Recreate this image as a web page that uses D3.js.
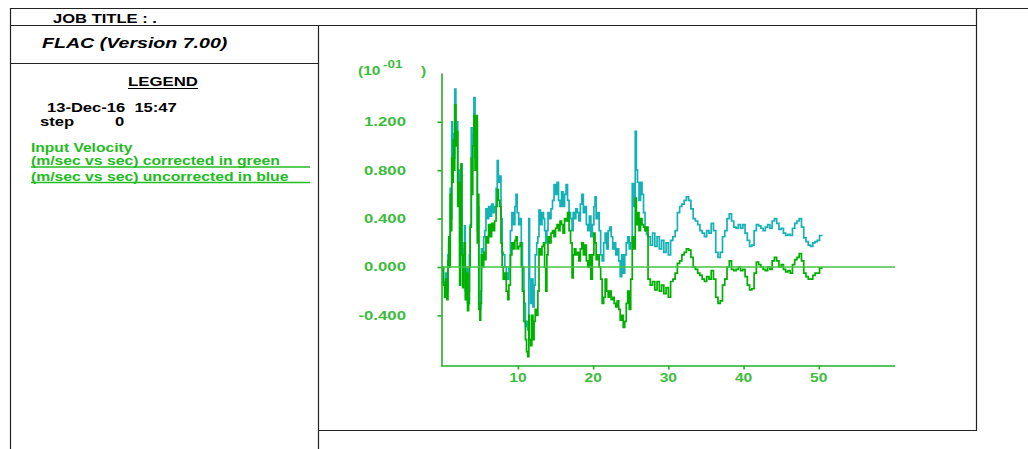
<!DOCTYPE html>
<html><head><meta charset="utf-8">
<script src="https://cdn.jsdelivr.net/npm/d3@7"></script>
<style>
html,body{margin:0;padding:0;background:#fff;}
svg text{font-family:"Liberation Sans",Arial,sans-serif;white-space:pre;}
</style></head>
<body>
<svg id="c" width="1028" height="449"></svg>
<script>
// ---- data (velocity in units of 10^-1 m/s, time in s) ----
const times = [0,0.1,0.25,0.4,0.55,0.7,0.8,0.9,1.0,1.1,1.2,1.3,1.4,1.5,1.6,1.75,1.9,2.0,2.1,2.25,2.35,2.45,2.55,2.65,2.75,2.9,3.0,3.15,3.3,3.45,3.55,3.65,3.8,3.9,4.0,4.15,4.3,4.45,4.6,4.7,4.8,4.95,5.05,5.15,5.3,5.45,5.6,5.75,5.9,6.1,6.3,6.5,6.7,6.9,7.1,7.25,7.4,7.6,7.75,7.9,8.05,8.25,8.45,8.65,8.8,9.0,9.2,9.4,9.6,9.75,9.9,10.1,10.3,10.45,10.6,10.8,11.0,11.15,11.3,11.45,11.55,11.7,11.85,12.0,12.15,12.3,12.5,12.65,12.8,13.0,13.2,13.4,13.55,13.7,13.85,14.0,14.2,14.4,14.6,14.8,15.0,15.2,15.4,15.6,15.8,16.0,16.2,16.4,16.6,16.8,17.0,17.2,17.35,17.5,17.7,17.9,18.1,18.3,18.5,18.7,18.9,19.1,19.3,19.5,19.7,19.9,20.1,20.25,20.4,20.6,20.8,21.0,21.2,21.4,21.6,21.8,22.0,22.2,22.4,22.6,22.8,23.0,23.2,23.4,23.6,23.8,24.0,24.2,24.4,24.6,24.8,25.0,25.2,25.4,25.6,25.75,25.9,26.1,26.3,26.5,26.7,26.9,27.1,27.3,27.6,27.9,28.2,28.5,28.8,29.1,29.4,29.7,30.0,30.3,30.6,30.9,31.2,31.5,31.8,32.1,32.4,32.7,33.0,33.3,33.6,33.9,34.2,34.5,34.8,35.1,35.4,35.7,36.0,36.3,36.6,36.9,37.2,37.5,37.8,38.1,38.4,38.7,39.0,39.3,39.6,39.9,40.2,40.5,40.8,41.1,41.4,41.7,42.0,42.3,42.6,42.9,43.2,43.5,43.8,44.1,44.4,44.7,45.0,45.3,45.6,45.9,46.2,46.5,46.8,47.1,47.4,47.7,48.0,48.3,48.6,48.9,49.2,49.5,49.8,50.1,50.5];
const correctedGreen = [0,-0.15,-0.25,-0.1,-0.27,0.05,0.25,0.0,0.6,0.3,0.9,0.7,1.05,0.8,1.34,1.0,1.12,0.5,0.7,-0.15,0.2,0.85,0.1,-0.17,0.1,0.2,-0.27,-0.05,-0.36,-0.3,0.0,0.33,0.9,0.6,1.0,1.25,0.8,1.25,0.2,0.6,-0.35,-0.44,-0.3,0.1,0.0,0.12,0.06,0.25,0.2,0.35,0.25,0.36,0.3,0.38,0.5,0.64,0.55,0.5,0.2,0.0,-0.1,-0.05,-0.2,-0.27,-0.15,0.1,0.2,0.15,0.22,0.25,0.15,0.17,0.2,0.0,-0.2,-0.45,-0.6,-0.7,-0.74,-0.4,-0.6,-0.65,-0.4,-0.6,-0.45,-0.35,-0.4,-0.2,0.15,0.1,0.17,0.2,0.0,-0.2,0.1,0.25,0.2,0.28,0.3,0.25,0.32,0.35,0.3,0.38,0.35,0.28,0.4,0.38,0.45,0.3,0.2,-0.09,0.1,0.15,0.1,0.12,0.05,0.15,0.2,0.1,0.18,0.05,0.0,0.1,-0.1,0.1,0.28,0.2,0.06,0.1,0.0,-0.1,-0.3,-0.25,-0.1,-0.2,-0.25,-0.2,-0.27,-0.25,-0.3,-0.33,-0.28,-0.35,-0.44,-0.4,-0.5,-0.45,-0.3,-0.2,-0.35,-0.1,0.25,0.15,0.57,0.35,0.45,0.3,0.4,0.35,0.33,0.3,0.33,-0.1,-0.15,-0.12,-0.19,-0.12,-0.2,-0.15,-0.22,-0.17,-0.25,-0.12,-0.1,-0.05,0.03,0.05,0.1,0.12,0.15,0.14,0.08,0.0,-0.02,-0.05,-0.07,-0.1,-0.12,-0.08,-0.1,-0.03,-0.1,-0.25,-0.3,-0.28,-0.15,-0.1,0.0,0.05,-0.02,-0.03,-0.02,0.0,-0.03,-0.02,-0.08,-0.15,-0.19,-0.18,-0.05,0.04,0.02,0.0,-0.02,-0.03,0.0,-0.02,0.05,0.08,0.05,0.0,0.02,-0.02,-0.04,-0.03,-0.05,0.02,0.06,0.08,0.11,0.05,-0.05,-0.08,-0.1,-0.1,-0.07,-0.05,-0.05,-0.01,-0.01];
const uncorrectedBlue = [0,-0.12,-0.15,-0.05,-0.2,0.1,0.2,0.05,0.65,0.4,1.2,0.8,1.1,0.9,1.47,1.1,1.2,0.7,0.8,0.0,0.35,0.85,0.2,-0.15,0.15,0.34,-0.2,0.0,-0.3,-0.2,0.1,0.35,1.15,0.8,1.1,1.4,0.9,1.2,0.3,0.5,-0.3,-0.35,-0.2,0.15,0.12,0.25,0.3,0.48,0.4,0.5,0.42,0.52,0.45,0.5,0.65,0.88,0.7,0.75,0.4,0.12,0.1,0.0,-0.05,-0.1,0.0,0.3,0.45,0.35,0.5,0.6,0.45,0.35,0.4,0.2,0.0,-0.3,-0.49,-0.45,-0.52,0.4,-0.1,-0.3,-0.1,-0.33,-0.15,0.1,0.2,0.25,0.47,0.35,0.45,0.4,0.3,0.2,0.3,0.45,0.4,0.48,0.55,0.68,0.6,0.7,0.55,0.5,0.62,0.5,0.6,0.68,0.55,0.45,0.4,0.3,0.45,0.4,0.48,0.45,0.38,0.52,0.6,0.45,0.5,0.35,0.3,0.42,0.25,0.35,0.5,0.58,0.4,0.45,0.3,0.1,0.05,0.2,0.28,0.15,0.3,0.33,0.25,0.15,0.2,0.1,0.15,0.05,-0.08,0.1,-0.05,0.1,0.2,0.25,0.15,0.2,0.69,0.5,1.12,0.8,0.7,0.55,0.7,0.6,0.45,0.3,0.27,0.25,0.18,0.28,0.17,0.25,0.15,0.22,0.12,0.2,0.1,0.22,0.25,0.3,0.45,0.5,0.52,0.55,0.58,0.55,0.48,0.4,0.38,0.35,0.3,0.28,0.25,0.3,0.28,0.36,0.3,0.12,0.08,0.12,0.25,0.3,0.4,0.44,0.38,0.33,0.32,0.35,0.32,0.35,0.28,0.22,0.17,0.18,0.3,0.35,0.34,0.32,0.3,0.33,0.35,0.32,0.38,0.4,0.36,0.31,0.32,0.28,0.26,0.27,0.26,0.32,0.36,0.38,0.4,0.33,0.24,0.21,0.18,0.17,0.2,0.21,0.22,0.26,0.26];
const xTicks = [10,20,30,40,50];
const yTicks = [-0.4,0.0,0.4,0.8,1.2];
const yTickLabels = ["-0.400","0.000","0.400","0.800","1.200"];

const svg = d3.select("#c");
const SX = 1.38; // horizontal stretch of the reference lettering
function stext(x, y, str, o) {
  o = o || {};
  const t = svg.append("text")
    .attr("transform", `translate(${x},${y}) scale(${o.sx||SX},1)`)
    .attr("font-size", o.size || 12)
    .attr("font-weight", o.weight || "bold")
    .attr("font-style", o.style || "normal")
    .attr("fill", o.fill || "#000")
    .attr("text-anchor", o.anchor || "start")
    .text(str);
  return t;
}

// ---- frame ----
const frame = "#222";
function ln(x1,y1,x2,y2,c,w){svg.append("line").attr("x1",x1).attr("y1",y1).attr("x2",x2).attr("y2",y2).attr("stroke",c||frame).attr("stroke-width",w||1.2);}
ln(10,8.5,1028,8.5);
ln(10,25.5,977,25.5);
ln(10.5,8,10.5,449);
ln(318.5,25,318.5,449);
ln(10,63.5,318,63.5);
ln(976.5,8,976.5,430.5);
ln(318,430.5,977,430.5);

// ---- left panel text ----
stext(53,22.5,"JOB TITLE : .");
stext(42,47.5,"FLAC (Version 7.00)",{size:14,style:"italic",sx:1.4});
stext(163,86,"LEGEND",{anchor:"middle",sx:1.4});
ln(128,88.5,198,88.5,"#000",1);
stext(47,112,"13-Dec-16  15:47");
stext(40,126,"step");
stext(115,126,"0");
const lg = "#22bb22";
stext(31,151.5,"Input Velocity",{fill:lg,sx:1.3});
stext(31,164.5,"(m/sec vs sec) corrected in green",{fill:lg,sx:1.31});
ln(31,167,310,167,lg,1.5);
stext(31,180.5,"(m/sec vs sec) uncorrected in blue",{fill:lg,sx:1.31});
ln(31,182.5,310,182.5,lg,1.5);

// ---- chart ----
const x = d3.scaleLinear().domain([0,60]).range([442.7,894]);
const y = d3.scaleLinear().domain([-0.81,1.603]).range([365,73]);
const axisCol = "#22b022";
const labCol = "#3cbc3c";

const gy = svg.append("g").attr("transform","translate(441.5,0)")
  .call(d3.axisLeft(y).tickValues(yTicks).tickSize(4).tickSizeOuter(0).tickFormat(""));
const gx = svg.append("g").attr("transform","translate(0,365.5)")
  .call(d3.axisBottom(x).tickValues(xTicks).tickSize(4).tickSizeOuter(0).tickFormat(""));
[gy,gx].forEach(g=>{g.selectAll("path,line").attr("stroke",axisCol).attr("stroke-width",1.6);});
gx.select("path.domain").attr("d",`M441,0.5H895`);

yTicks.forEach((v,i)=>stext(406,y(v)+4.5,yTickLabels[i],{fill:labCol,anchor:"end",weight:"bold",size:12,sx:1.4}));
xTicks.forEach(v=>stext(x(v),382,String(v),{fill:labCol,anchor:"middle",weight:"bold",size:12,sx:1.3}));
// axis multiplier
stext(358,75,"(10",{fill:labCol,weight:"bold",size:12,sx:1.3});
stext(383,68,"-01",{fill:labCol,weight:"bold",size:10,sx:1.35});
stext(421,75,")",{fill:labCol,weight:"bold",size:12,sx:1.3});

const line = d3.line().curve(d3.curveStepAfter).x((d,i)=>x(times[i])).y(d=>y(d));
svg.append("path").datum(uncorrectedBlue).attr("d",line).attr("fill","none").attr("stroke","#14b2b6").attr("stroke-width",1.7);
svg.append("path").datum(correctedGreen).attr("d",line).attr("fill","none").attr("stroke","#00b000").attr("stroke-width",1.7);

// zero line
svg.append("line").attr("x1",441).attr("x2",895).attr("y1",y(0)).attr("y2",y(0)).attr("stroke","#44c444").attr("stroke-width",1.4);
</script>
</body></html>
